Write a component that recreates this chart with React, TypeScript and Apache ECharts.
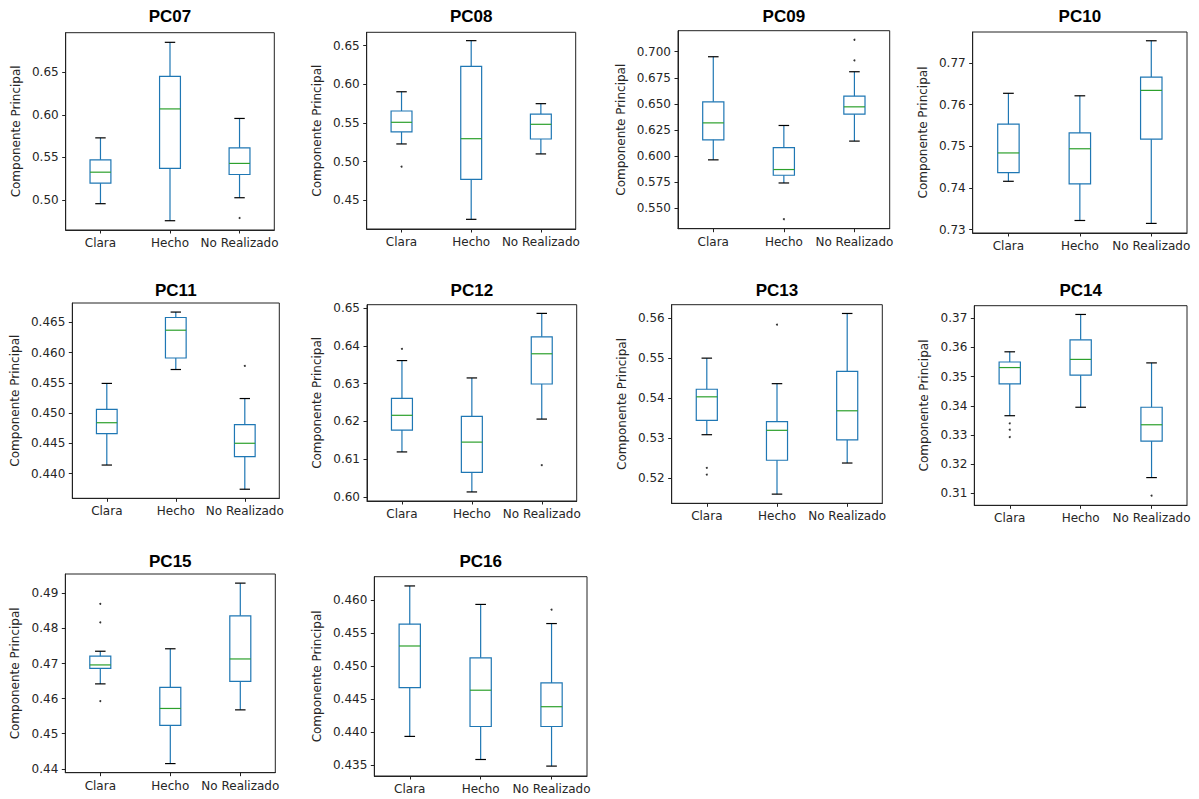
import React, { useEffect, useRef } from "react";
import * as echarts from "echarts";

// ---------- data ----------
const CATEGORIES = ["Clara", "Hecho", "No Realizado"];
const PANEL_TITLES = ["PC07", "PC08", "PC09", "PC10", "PC11", "PC12", "PC13", "PC14", "PC15", "PC16"];

// each box: [whiskerLow, Q1, median, Q3, whiskerHigh] for Clara, Hecho, No Realizado
const PC07_BOX = [[0.4957, 0.5198, 0.5327, 0.5472, 0.573], [0.4757, 0.5371, 0.607, 0.6453, 0.6852], [0.5027, 0.53, 0.543, 0.5613, 0.5958]];
const PC08_BOX = [[0.5229, 0.5384, 0.5509, 0.5655, 0.5904], [0.4254, 0.4772, 0.5297, 0.6233, 0.6565], [0.51, 0.5293, 0.5483, 0.5616, 0.575]];
const PC09_BOX = [[0.5962, 0.6154, 0.6317, 0.6519, 0.6952], [0.574, 0.5814, 0.5869, 0.608, 0.6292], [0.6142, 0.6401, 0.6471, 0.6574, 0.6808]];
const PC10_BOX = [[0.7416, 0.7437, 0.7484, 0.7553, 0.7627], [0.7322, 0.741, 0.7494, 0.7532, 0.7621], [0.7315, 0.7517, 0.7634, 0.7666, 0.7753]];
const PC11_BOX = [[0.4414, 0.4466, 0.4484, 0.4506, 0.4549], [0.4572, 0.4591, 0.4637, 0.4658, 0.4667], [0.4374, 0.4428, 0.445, 0.4481, 0.4524]];
const PC12_BOX = [[0.6119, 0.6177, 0.6216, 0.6261, 0.6361], [0.6013, 0.6065, 0.6145, 0.6213, 0.6315], [0.6206, 0.6299, 0.6379, 0.6424, 0.6486]];
const PC13_BOX = [[0.5308, 0.5344, 0.5403, 0.5422, 0.55], [0.5159, 0.5244, 0.5319, 0.5341, 0.5436], [0.5237, 0.5295, 0.5368, 0.5467, 0.5612]];
const PC14_BOX = [[0.3366, 0.3475, 0.3531, 0.355, 0.3585], [0.3395, 0.3505, 0.3559, 0.3626, 0.3713], [0.3154, 0.3279, 0.3335, 0.3395, 0.3547]];
const PC15_BOX = [[0.4642, 0.4686, 0.4696, 0.4721, 0.4735], [0.4415, 0.4524, 0.4572, 0.4632, 0.4742], [0.4568, 0.4649, 0.4713, 0.4836, 0.4929]];
const PC16_BOX = [[0.4393, 0.4467, 0.453, 0.4563, 0.4621], [0.4358, 0.4408, 0.4463, 0.4512, 0.4593], [0.4348, 0.4408, 0.4438, 0.4474, 0.4564]];

// outliers: [categoryIndex, value]
const PC07_OUT = [[2, 0.4789]];
const PC08_OUT = [[0, 0.4935]];
const PC09_OUT = [[1, 0.5392], [2, 0.7115], [2, 0.6917]];
const PC10_OUT: number[][] = [];
const PC11_OUT = [[2, 0.4578]];
const PC12_OUT = [[0, 0.6392], [2, 0.6084]];
const PC13_OUT = [[0, 0.5225], [0, 0.5208], [1, 0.5584]];
const PC14_OUT = [[0, 0.334], [0, 0.3318], [0, 0.3293], [2, 0.3092]];
const PC15_OUT = [[0, 0.487], [0, 0.4817], [0, 0.4593]];
const PC16_OUT = [[2, 0.4585]];

// y-axis limits
const PC07_YLIM = [0.4648, 0.6965];
const PC08_YLIM = [0.4129, 0.6673];
const PC09_YLIM = [0.5301, 0.7202];
const PC10_YLIM = [0.7292, 0.7774];
const PC11_YLIM = [0.4359, 0.4682];
const PC12_YLIM = [0.5989, 0.6509];
const PC13_YLIM = [0.5136, 0.5634];
const PC14_YLIM = [0.3059, 0.3743];
const PC15_YLIM = [0.4389, 0.4955];
const PC16_YLIM = [0.4333, 0.4635];

// y tick labels
const PC07_TICKS = ["0.50", "0.55", "0.60", "0.65"];
const PC08_TICKS = ["0.45", "0.50", "0.55", "0.60", "0.65"];
const PC09_TICKS = ["0.550", "0.575", "0.600", "0.625", "0.650", "0.675", "0.700"];
const PC10_TICKS = ["0.73", "0.74", "0.75", "0.76", "0.77"];
const PC11_TICKS = ["0.440", "0.445", "0.450", "0.455", "0.460", "0.465"];
const PC12_TICKS = ["0.60", "0.61", "0.62", "0.63", "0.64", "0.65"];
const PC13_TICKS = ["0.52", "0.53", "0.54", "0.55", "0.56"];
const PC14_TICKS = ["0.31", "0.32", "0.33", "0.34", "0.35", "0.36", "0.37"];
const PC15_TICKS = ["0.44", "0.45", "0.46", "0.47", "0.48", "0.49"];
const PC16_TICKS = ["0.435", "0.440", "0.445", "0.450", "0.455", "0.460"];

const BOXES = [PC07_BOX, PC08_BOX, PC09_BOX, PC10_BOX, PC11_BOX, PC12_BOX, PC13_BOX, PC14_BOX, PC15_BOX, PC16_BOX];
const OUTS = [PC07_OUT, PC08_OUT, PC09_OUT, PC10_OUT, PC11_OUT, PC12_OUT, PC13_OUT, PC14_OUT, PC15_OUT, PC16_OUT];
const YLIMS = [PC07_YLIM, PC08_YLIM, PC09_YLIM, PC10_YLIM, PC11_YLIM, PC12_YLIM, PC13_YLIM, PC14_YLIM, PC15_YLIM, PC16_YLIM];
const TICKS = [PC07_TICKS, PC08_TICKS, PC09_TICKS, PC10_TICKS, PC11_TICKS, PC12_TICKS, PC13_TICKS, PC14_TICKS, PC15_TICKS, PC16_TICKS];

// ---------- layout (pixels) ----------
// [left, top, width, height]
const GRIDS = [
  [65.7, 32.7, 208.6, 197.3],
  [366.7, 32.3, 209, 196.7],
  [678, 30.7, 211.7, 198],
  [972.7, 32, 214.3, 201],
  [72.3, 303, 207, 195.3],
  [367, 304.7, 209.7, 196.3],
  [671.7, 304.7, 210.6, 198.6],
  [974.3, 305.7, 212.7, 199.6],
  [65.3, 574, 210, 198.7],
  [374.3, 576.7, 212.7, 199.3],
];
const TITLE_Y = [18, 18, 18, 18, 291.5, 291.5, 291.5, 291.5, 562.5, 562.5];

const BLUE = "#1f77b4";
const GREEN = "#2ca02c";
const TEXT = "#262626";
const FONT = "DejaVu Sans";

function renderBox(params: any, api: any) {
  const c = api.value(0);
  const low = api.value(1);
  const q1 = api.value(2);
  const med = api.value(3);
  const q3 = api.value(4);
  const high = api.value(5);
  const band = api.size([1, 0])[0];
  const w = band * 0.3;
  const cw = w / 2;
  const pLow = api.coord([c, low]);
  const pQ1 = api.coord([c, q1]);
  const pMed = api.coord([c, med]);
  const pQ3 = api.coord([c, q3]);
  const pHigh = api.coord([c, high]);
  const x = pLow[0];
  const lw = 1.2;
  return {
    type: "group",
    children: [
      { type: "line", shape: { x1: x, y1: pQ1[1], x2: x, y2: pLow[1] }, style: { stroke: BLUE, lineWidth: lw } },
      { type: "line", shape: { x1: x, y1: pQ3[1], x2: x, y2: pHigh[1] }, style: { stroke: BLUE, lineWidth: lw } },
      { type: "line", shape: { x1: x - cw / 2, y1: pLow[1], x2: x + cw / 2, y2: pLow[1] }, style: { stroke: "#000", lineWidth: lw } },
      { type: "line", shape: { x1: x - cw / 2, y1: pHigh[1], x2: x + cw / 2, y2: pHigh[1] }, style: { stroke: "#000", lineWidth: lw } },
      {
        type: "rect",
        shape: { x: x - w / 2, y: pQ3[1], width: w, height: pQ1[1] - pQ3[1] },
        style: { fill: "none", stroke: BLUE, lineWidth: lw },
      },
      { type: "line", shape: { x1: x - w / 2, y1: pMed[1], x2: x + w / 2, y2: pMed[1] }, style: { stroke: GREEN, lineWidth: lw } },
    ],
  };
}

function buildOption() {
  const grid: any[] = [];
  const xAxis: any[] = [];
  const yAxis: any[] = [];
  const series: any[] = [];
  const title: any[] = [];
  for (let i = 0; i < PANEL_TITLES.length; i++) {
    const [l, t, w, h] = GRIDS[i];
    grid.push({ left: l, top: t, width: w, height: h, show: true, borderColor: "#222", borderWidth: 1, backgroundColor: "transparent" });
    title.push({
      text: PANEL_TITLES[i],
      left: l + w / 2,
      top: TITLE_Y[i] - 10,
      padding: 0,
      textAlign: "center",
      textStyle: { fontFamily: "Liberation Sans", fontWeight: "bold", fontSize: 17, color: "#000" },
    });
    xAxis.push({
      type: "category",
      gridIndex: i,
      data: CATEGORIES,
      boundaryGap: true,
      axisLine: { show: true, lineStyle: { color: "#222", width: 1 } },
      axisTick: { show: true, alignWithLabel: true, length: 3.5, lineStyle: { color: "#222" } },
      axisLabel: { interval: 0, hideOverlap: false, margin: 7, fontSize: 12, fontFamily: FONT, color: TEXT },
      splitLine: { show: false },
    });
    const ticks = TICKS[i];
    const dec = ticks[0].split(".")[1].length;
    const tickVals = ticks.map((s) => parseFloat(s));
    const longLabels = ticks[0].length >= 5;
    yAxis.push({
      type: "value",
      gridIndex: i,
      min: YLIMS[i][0],
      max: YLIMS[i][1],
      name: "Componente Principal",
      nameLocation: "middle",
      nameGap: longLabels ? 51.5 : 44,
      nameTextStyle: { fontSize: 12, fontFamily: FONT, color: TEXT },
      axisLine: { show: true, lineStyle: { color: "#222", width: 1 } },
      axisTick: { show: true, length: 3.5, customValues: tickVals, lineStyle: { color: "#222" } },
      axisLabel: {
        customValues: tickVals,
        margin: 7,
        fontSize: 12,
        fontFamily: FONT,
        color: TEXT,
        formatter: (v: number) => v.toFixed(dec),
      },
      splitLine: { show: false },
    });
    series.push({
      type: "custom",
      xAxisIndex: i,
      yAxisIndex: i,
      renderItem: renderBox,
      encode: { x: 0, y: [1, 2, 3, 4, 5] },
      data: BOXES[i].map((b, k) => [k, ...b]),
      clip: false,
    });
    series.push({
      type: "scatter",
      xAxisIndex: i,
      yAxisIndex: i,
      symbol: "circle",
      symbolSize: 2,
      itemStyle: { color: "#000" },
      data: OUTS[i],
    });
  }
  return { animation: false, backgroundColor: "#fff", title, grid, xAxis, yAxis, series };
}

export default function App() {
  const ref = useRef<HTMLDivElement>(null);
  useEffect(() => {
    if (!ref.current) return;
    const chart = echarts.init(ref.current, null, { renderer: "svg" });
    chart.setOption(buildOption() as any);
    return () => chart.dispose();
  }, []);
  return <div ref={ref} style={{ position: "absolute", left: 0, top: 0, width: 1199, height: 799, background: "#fff" }} />;
}
